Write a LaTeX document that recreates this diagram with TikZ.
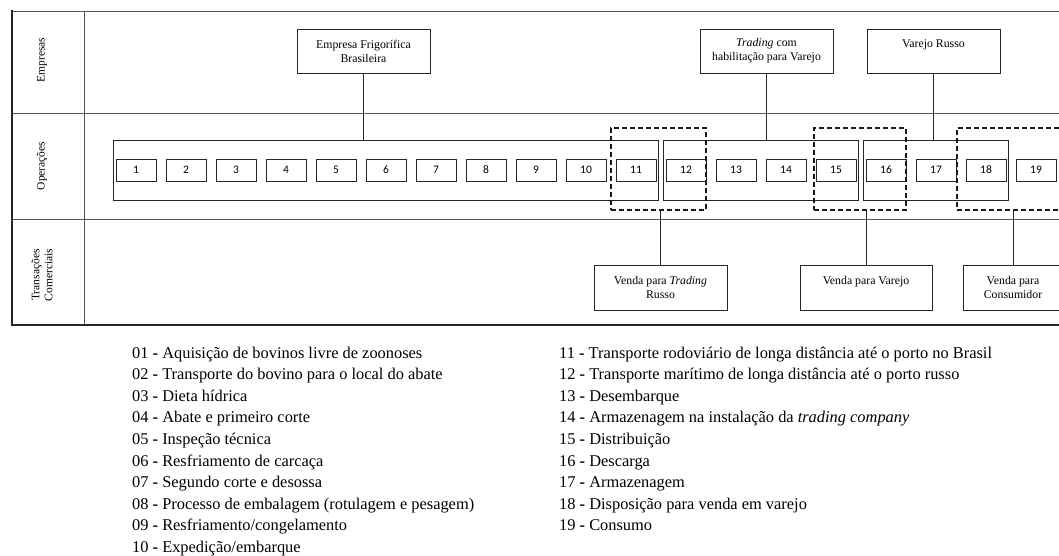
\documentclass[tikz,border=0pt]{standalone}
\usepackage{fontspec}
\setmainfont{Liberation Serif}
\newfontfamily\numfont{Carlito}
\usetikzlibrary{positioning,fit}
\definecolor{gridgray}{HTML}{555555}
\definecolor{boxline}{HTML}{262626}
\tikzset{
  % quadro
  grade/.style={draw=gridgray,line width=0.9pt},
  borda/.style={draw=black!85,line width=1.6pt},
  lane/.style={rotate=90,align=center,font=\fontsize{11.5}{13}\selectfont},
  % caixas
  ator/.style={draw=boxline,line width=0.8pt,minimum width=133pt,minimum height=44pt,
               inner sep=0pt,align=center,font=\fontsize{11.8}{14}\selectfont},
  op/.style={draw=boxline,line width=0.8pt,minimum width=40pt,minimum height=22pt,
             inner sep=0pt,font=\numfont\fontsize{11.5}{12}\selectfont},
  grupo/.style={draw=boxline,line width=0.8pt,inner xsep=2pt,inner ysep=18.5pt},
  venda/.style={draw=black!90,line width=1.8pt,dash pattern=on 5pt off 3pt,
                minimum height=82pt,inner sep=0pt},
  liga/.style={draw=boxline,line width=0.8pt},
  leg/.style={align=left,inner sep=0pt,anchor=north west,
              font=\fontsize{16.4}{21.6}\selectfont},
}
\begin{document}
\begin{tikzpicture}[x=1pt,y=-1pt]
  \useasboundingbox (0,0) rectangle (1059,556);
  % quadro
  \draw[grade] (12,11) -- (1065,11);
  \draw[grade] (12,113) -- (1065,113);
  \draw[grade] (12,219) -- (1065,219);
  \draw[grade] (84,11) -- (84,325);
  \draw[borda] (12,10) -- (12,325) -- (1065,325);
  \node[lane] (lemp) at (42,60) {Empresas};
  \node[lane] (lope) at (42,166) {Operações};
  \node[lane] (ltra) at (42,275) {Transações\\Comerciais};
  % operacoes
  \foreach \i in {1,...,19}
    \node[op] (op\i) at ({136+50*(\i-1)},170) {\i};
  \node[grupo,fit=(op1)(op11)] (gA) {};
  \node[grupo,fit=(op12)(op15)] (gB) {};
  \node[grupo,fit=(op16)(op18)] (gC) {};
  \node[venda,minimum width=95pt] (d1) at (658.5,169) {};
  \node[venda,minimum width=92pt] (d2) at (860,169) {};
  \node[venda,minimum width=110pt] (d3) at (1012,169) {};
  % empresas
  \node[ator] (emp) at (363.5,51) {Empresa Frigorífica\\Brasileira};
  \node[ator] (trad) at (766.5,51) {\textit{Trading} com\\habilitação para Varejo};
  \node[ator] (varejo) at (933.5,51) {Varejo Russo\\\mbox{}};
  \draw[liga] (emp.south) -- (emp.south |- gA.north);
  \draw[liga] (trad.south) -- (trad.south |- gB.north);
  \draw[liga] (varejo.south) -- (varejo.south |- gC.north);
  % transacoes
  \node[ator,minimum height=45pt] (vtr) at (660.5,287.5) {Venda para \textit{Trading}\\Russo};
  \node[ator,minimum width=132pt,minimum height=45pt] (vva) at (866,287.5) {Venda para Varejo\\\mbox{}};
  \node[ator,minimum width=100pt,minimum height=45pt] (vco) at (1013,287.5) {Venda para\\Consumidor};
  \draw[liga] (vtr.north) -- (vtr.north |- d1.south);
  \draw[liga] (vva.north) -- (vva.north |- d2.south);
  \draw[liga] (vco.north) -- (vco.north |- d3.south);
  % legenda
  \node[leg] (legA) at (132,346.5) {%
    01 \textbf{-} Aquisição de bovinos livre de zoonoses\\
    02 \textbf{-} Transporte do bovino para o local do abate\\
    03 \textbf{-} Dieta hídrica\\
    04 \textbf{-} Abate e primeiro corte\\
    05 \textbf{-} Inspeção técnica\\
    06 \textbf{-} Resfriamento de carcaça\\
    07 \textbf{-} Segundo corte e desossa\\
    08 \textbf{-} Processo de embalagem (rotulagem e pesagem)\\
    09 \textbf{-} Resfriamento/congelamento\\
    10 \textbf{-} Expedição/embarque};
  \node[leg] (legB) at (559,346.5) {%
    11 \textbf{-} Transporte rodoviário de longa distância até o porto no Brasil\\
    12 \textbf{-} Transporte marítimo de longa distância até o porto russo\\
    13 \textbf{-} Desembarque\\
    14 \textbf{-} Armazenagem na instalação da \textit{trading company}\\
    15 \textbf{-} Distribuição\\
    16 \textbf{-} Descarga\\
    17 \textbf{-} Armazenagem\\
    18 \textbf{-} Disposição para venda em varejo\\
    19 \textbf{-} Consumo};
\end{tikzpicture}
\end{document}
